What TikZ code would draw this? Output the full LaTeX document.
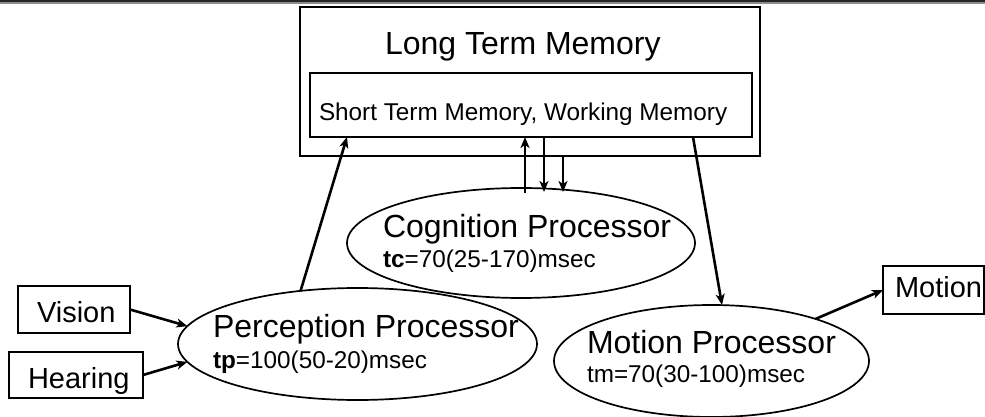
\documentclass[tikz,border=0pt]{standalone}
\usepackage{fontspec}
\setmainfont{Liberation Sans}
\usetikzlibrary{shapes.geometric,arrows.meta}
\newcommand{\fbig}{\fontsize{32}{32}\selectfont}
\newcommand{\fmid}{\fontsize{29}{29}\selectfont}
\newcommand{\fsmall}{\fontsize{24.3}{24.3}\selectfont}
\begin{document}
\begin{tikzpicture}[x=1pt,y=-1pt,
  shp/.style={draw, line width=1.7pt, inner sep=0pt, outer sep=0pt},
  oval/.style={shp, ellipse},
  boxr/.style={shp, rectangle},
  txt/.style={anchor=base west, inner sep=0pt, outer sep=0pt},
  arr/.style={line width=2.6pt, -{Stealth[length=11pt,width=9pt,inset=3pt]}}]
\useasboundingbox (0,0) rectangle (985,417);
% top rule
\coordinate (tl) at (0,1);
\coordinate (tr) at (985,1);
\coordinate (tl2) at (0,3);
\coordinate (tr2) at (985,3);
\draw[line width=1.5pt, black!45] (tl2) -- (tr2);
\draw[line width=2pt, black!85] (tl) -- (tr);
% memory boxes
\node[boxr, minimum width=460, minimum height=149] (ltm) at (530,81.5) {};
\node[boxr, fill=white, minimum width=442, minimum height=64] (stm) at (531,105) {};
\node[txt] (ltmt) at (385,55) {\fbig Long Term Memory};
\node[txt] (stmt) at (319,121) {\fsmall Short Term Memory, Working Memory};
% processors
\node[oval, minimum width=359, minimum height=112] (perc) at (357.5,344) {};
\node[oval, minimum width=348, minimum height=110] (cog) at (521,243) {};
\node[oval, minimum width=315, minimum height=112] (mot) at (711.5,361) {};
\node[txt] (cogt) at (383,237) {\fbig Cognition Processor};
\node[txt] (cogs) at (383,267) {\fsmall\textbf{tc}=70(25-170)msec};
\node[txt] (perct) at (213,337) {\fbig Perception Processor};
\node[txt] (percs) at (213,368) {\fsmall\textbf{tp}=100(50-20)msec};
\node[txt] (mott) at (587,353) {\fbig Motion Processor};
\node[txt] (mots) at (587,382) {\fsmall tm=70(30-100)msec};
% input / output boxes
\node[boxr, minimum width=112, minimum height=47] (vision) at (74,309.5) {};
\node[boxr, minimum width=134, minimum height=46] (hear) at (76,375) {};
\node[boxr, minimum width=101, minimum height=48] (mbox) at (933.5,290) {};
\node[txt] (visiont) at (37,322) {\fmid Vision};
\node[txt] (heart) at (28,388) {\fmid Hearing};
\node[txt] (mboxt) at (895,297) {\fmid Motion};
% connectors
\draw[arr] (vision.east) -- (perc.174);
\draw[arr] (hear.east) -- (perc.186);
\draw[arr] (perc.137) -- ([xshift=37pt]stm.south west);
\draw[arr] ([xshift=4pt,yshift=-5pt]cog.north) -- ([xshift=4pt]cog.north |- stm.south);
\draw[arr] ([xshift=23pt]cog.north |- stm.south) -- ([xshift=23pt,yshift=-4pt]cog.north);
\draw[arr] ([xshift=42pt]cog.north |- ltm.south) -- ([xshift=42pt,yshift=-4pt]cog.north);
\draw[arr] ([xshift=-59pt]stm.south east) -- ([xshift=10.5pt]mot.north);
\draw[arr] (mot.22) -- (mbox.west);
\end{tikzpicture}
\end{document}
